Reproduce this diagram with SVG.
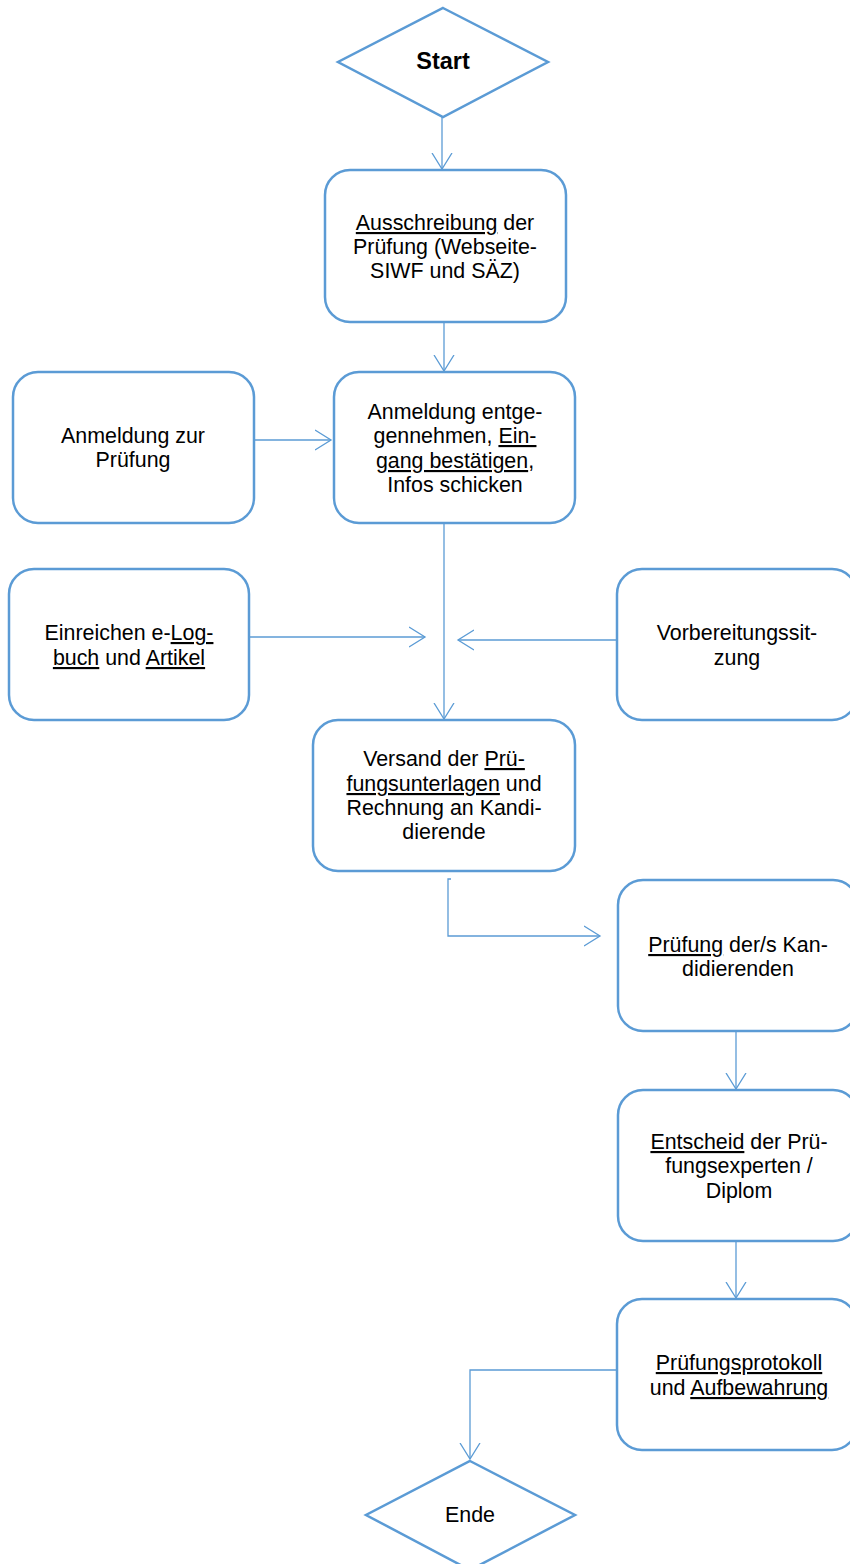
<svg xmlns="http://www.w3.org/2000/svg" width="850" height="1564" viewBox="0 0 850 1564">
<style>
.box{fill:#fff;stroke:#5B9BD5;stroke-width:2.5}
.con{fill:none;stroke:#5B9BD5;stroke-width:1.3}
.t{font-family:"Liberation Sans",Arial,sans-serif;font-size:21.4px;fill:#000;text-anchor:middle}
.u{text-decoration:underline}
</style>
<defs>
<marker id="ah" markerUnits="userSpaceOnUse" markerWidth="20" markerHeight="24" refX="16" refY="10" orient="auto" viewBox="0 0 20 20">
<path d="M0,0 L16,10 L0,20" fill="none" stroke="#5B9BD5" stroke-width="1.3"/>
</marker>
</defs>
<rect width="850" height="1564" fill="#fff"/>
<g id="connectors">
<path class="con" d="M442,117 V169" marker-end="url(#ah)"/>
<path class="con" d="M444,322 V371" marker-end="url(#ah)"/>
<path class="con" d="M254,440 H331" marker-end="url(#ah)"/>
<path class="con" d="M444,523 V719" marker-end="url(#ah)"/>
<path class="con" d="M249,637 H425" marker-end="url(#ah)"/>
<path class="con" d="M617,640 H458" marker-end="url(#ah)"/>
<path class="con" d="M451,879 H448 V936 H600" marker-end="url(#ah)"/>
<path class="con" d="M736,1031 V1089" marker-end="url(#ah)"/>
<path class="con" d="M736,1241 V1298" marker-end="url(#ah)"/>
<path class="con" d="M617,1370 H470 V1459" marker-end="url(#ah)"/>
</g>
<g id="start">
<polygon class="box" points="443,8 548,62 443,117 338,62"/>
<text class="t" x="443" y="69" style="font-weight:bold;font-size:23.5px">Start</text>
</g>
<g id="ausschreibung">
<rect class="box" x="325" y="170" width="241" height="152" rx="25"/>
<text class="t" x="445" y="230"><tspan class="u">Ausschreibung</tspan> der</text>
<text class="t" x="445" y="254">Prüfung (Webseite-</text>
<text class="t" x="445" y="278">SIWF und SÄZ)</text>
</g>
<g id="anmeldung">
<rect class="box" x="13" y="372" width="241" height="151" rx="25"/>
<text class="t" x="133" y="443">Anmeldung zur</text>
<text class="t" x="133" y="467">Prüfung</text>
</g>
<g id="entgegennehmen">
<rect class="box" x="334" y="372" width="241" height="151" rx="25"/>
<text class="t" x="455" y="419">Anmeldung entge-</text>
<text class="t" x="455" y="443">gennehmen, <tspan class="u">Ein-</tspan></text>
<text class="t" x="455" y="468"><tspan class="u">gang bestätigen</tspan>,</text>
<text class="t" x="455" y="492">Infos schicken</text>
</g>
<g id="einreichen">
<rect class="box" x="9" y="569" width="240" height="151" rx="25"/>
<text class="t" x="129" y="640">Einreichen e-<tspan class="u">Log-</tspan></text>
<text class="t" x="129" y="665"><tspan class="u">buch</tspan> und <tspan class="u">Artikel</tspan></text>
</g>
<g id="vorbereitung">
<rect class="box" x="617" y="569" width="240" height="151" rx="25"/>
<text class="t" x="737" y="640">Vorbereitungssit-</text>
<text class="t" x="737" y="665">zung</text>
</g>
<g id="versand">
<rect class="box" x="313" y="720" width="262" height="151" rx="25"/>
<text class="t" x="444" y="766">Versand der <tspan class="u">Prü-</tspan></text>
<text class="t" x="444" y="791"><tspan class="u">fungsunterlagen</tspan> und</text>
<text class="t" x="444" y="815">Rechnung an Kandi-</text>
<text class="t" x="444" y="839">dierende</text>
</g>
<g id="pruefung">
<rect class="box" x="618" y="880" width="240" height="151" rx="25"/>
<text class="t" x="738" y="952"><tspan class="u">Prüfung</tspan> der/s Kan-</text>
<text class="t" x="738" y="976">didierenden</text>
</g>
<g id="entscheid">
<rect class="box" x="618" y="1090" width="240" height="151" rx="25"/>
<text class="t" x="739" y="1149"><tspan class="u">Entscheid</tspan> der Prü-</text>
<text class="t" x="739" y="1173">fungsexperten /</text>
<text class="t" x="739" y="1198">Diplom</text>
</g>
<g id="protokoll">
<rect class="box" x="617" y="1299" width="240" height="151" rx="25"/>
<text class="t" x="739" y="1370"><tspan class="u">Prüfungsprotokoll</tspan></text>
<text class="t" x="739" y="1395">und <tspan class="u">Aufbewahrung</tspan></text>
</g>
<g id="ende">
<polygon class="box" points="470,1461 575,1515 470,1570 366,1515"/>
<text class="t" x="470" y="1522">Ende</text>
</g>
</svg>
